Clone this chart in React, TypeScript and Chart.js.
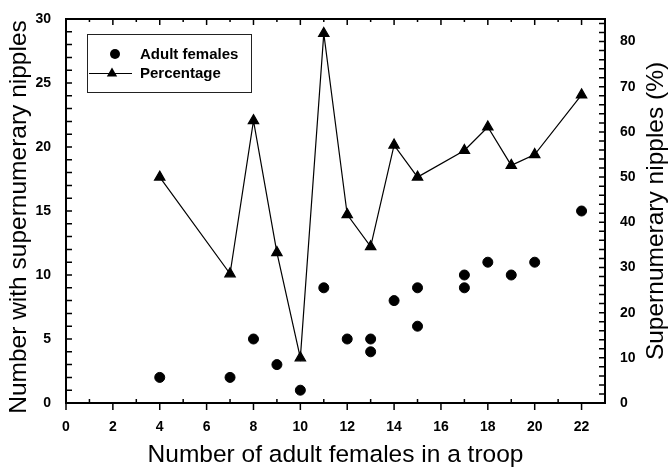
import React, { useEffect, useRef } from 'react';
import { Chart, registerables } from 'chart.js';

Chart.register(...registerables);

// ---- data ----
const femalesX = [4, 7, 8, 9, 10, 11, 12, 13, 13, 14, 15, 15, 17, 17, 18, 19, 20, 22];
const femalesY = [2, 2, 5, 3, 1, 9, 5, 5, 4, 8, 9, 6, 10, 9, 11, 10, 11, 15];
const pctX = [4, 7, 8, 9, 10, 11, 12, 13, 14, 15, 17, 18, 19, 20, 22];
const pctY = [50, 28.6, 62.5, 33.3, 10, 81.8, 41.7, 34.6, 57.1, 50, 55.9, 61.1, 52.6, 55, 68.2];
const seriesLabels = ['Adult females', 'Percentage'];
const xTitle = 'Number of adult females in a troop';
const yLeftTitle = 'Number with supernumerary nipples';
const yRightTitle = 'Supernumerary nipples (%)';
const xRange = [0, 23];
const yLeftRange = [0, 30];
const yRightRange = [0, 85];

const FONT = '"Liberation Sans", Arial, sans-serif';

const decorPlugin = {
  id: 'decor',
  afterDraw(chart: any) {
    const { ctx, chartArea: a, scales } = chart;
    const sx = scales.x;
    const sy = scales.y;
    const sr = scales.y1;
    ctx.save();
    ctx.strokeStyle = '#000';
    ctx.lineWidth = 1.5;
    ctx.beginPath();
    for (let v = xRange[0]; v <= xRange[1]; v++) {
      const px = sx.getPixelForValue(v);
      if (v % 2 === 0) {
        ctx.moveTo(px, a.bottom);
        ctx.lineTo(px, a.bottom + 7);
        ctx.moveTo(px, a.top);
        ctx.lineTo(px, a.top + 6);
      } else {
        ctx.moveTo(px, a.bottom);
        ctx.lineTo(px, a.bottom - 4);
        ctx.moveTo(px, a.top);
        ctx.lineTo(px, a.top + 3);
      }
    }
    for (let v = yLeftRange[0]; v <= yLeftRange[1]; v++) {
      const py = sy.getPixelForValue(v);
      ctx.moveTo(a.left, py);
      ctx.lineTo(a.left + 6, py);
    }
    for (let v = yRightRange[0]; v <= yRightRange[1]; v += 2) {
      const py = sr.getPixelForValue(v);
      ctx.moveTo(a.right, py);
      ctx.lineTo(a.right - 6, py);
    }
    ctx.stroke();

    ctx.lineWidth = 2;
    ctx.strokeRect(a.left, a.top, a.right - a.left, a.bottom - a.top);

    // left axis title (reads bottom to top)
    ctx.fillStyle = '#000';
    ctx.font = `24.5px ${FONT}`;
    ctx.textAlign = 'center';
    ctx.textBaseline = 'middle';
    ctx.translate(19.5, 217);
    ctx.rotate(-Math.PI / 2);
    ctx.fillText(yLeftTitle, 0, 0);
    ctx.setTransform(1, 0, 0, 1, 0, 0);

    // right axis title (reads bottom to top)
    ctx.translate(656, (a.top + a.bottom) / 2);
    ctx.rotate(-Math.PI / 2);
    ctx.fillText(yRightTitle, 0, 0);
    ctx.setTransform(1, 0, 0, 1, 0, 0);

    // legend box
    const ds = chart.data.datasets;
    const bx = 87, by = 34, bw = 164, bh = 58;
    ctx.fillStyle = '#fff';
    ctx.fillRect(bx, by, bw, bh);
    ctx.lineWidth = 1;
    ctx.strokeStyle = '#222';
    ctx.strokeRect(bx + 0.5, by + 0.5, bw, bh);
    ctx.fillStyle = '#000';
    ctx.beginPath();
    ctx.arc(115, 54, 5, 0, Math.PI * 2);
    ctx.fill();
    ctx.strokeStyle = '#000';
    ctx.lineWidth = 1.2;
    ctx.beginPath();
    ctx.moveTo(89, 73.5);
    ctx.lineTo(132, 73.5);
    ctx.stroke();
    const r = 6;
    ctx.beginPath();
    ctx.moveTo(112, 73.5 - r);
    ctx.lineTo(112 + r * Math.sin((2 * Math.PI) / 3), 73.5 + r / 2);
    ctx.lineTo(112 - r * Math.sin((2 * Math.PI) / 3), 73.5 + r / 2);
    ctx.closePath();
    ctx.fill();
    ctx.font = `bold 15px ${FONT}`;
    ctx.textAlign = 'left';
    ctx.textBaseline = 'middle';
    ctx.fillText(ds[0].label, 140, 55);
    ctx.fillText(ds[1].label, 140, 74);
    ctx.restore();
  },
};

export default function App() {
  const ref = useRef<HTMLCanvasElement | null>(null);

  useEffect(() => {
    if (!ref.current) return;
    const tickFont = { family: FONT, weight: 'bold' as const, size: 14 };
    const chart = new Chart(ref.current, {
      type: 'scatter',
      data: {
        datasets: [
          {
            label: seriesLabels[0],
            data: femalesX.map((x, i) => ({ x, y: femalesY[i] })),
            yAxisID: 'y',
            backgroundColor: '#000',
            borderColor: '#000',
            pointRadius: 5,
            pointStyle: 'circle',
          },
          {
            label: seriesLabels[1],
            data: pctX.map((x, i) => ({ x, y: pctY[i] })),
            yAxisID: 'y1',
            showLine: true,
            borderWidth: 1.2,
            backgroundColor: '#000',
            borderColor: '#000',
            pointRadius: 6,
            pointStyle: 'triangle',
          },
        ],
      },
      options: {
        animation: false,
        responsive: true,
        maintainAspectRatio: false,
        layout: { padding: { top: 19, left: 0, right: 0, bottom: 0 } },
        plugins: { legend: { display: false }, tooltip: { enabled: false } },
        scales: {
          x: {
            type: 'linear',
            position: 'bottom',
            min: xRange[0],
            max: xRange[1],
            grid: { display: false },
            border: { display: false },
            ticks: {
              stepSize: 2,
              includeBounds: false,
              padding: 8,
              color: '#000',
              font: tickFont,
              maxRotation: 0,
              autoSkip: false,
            },
            title: {
              display: true,
              text: xTitle,
              color: '#000',
              font: { family: FONT, size: 24.5, lineHeight: 1 },
              padding: { top: 0, bottom: 0 },
            },
            afterFit: (s: any) => {
              s.height = 64;
            },
          },
          y: {
            type: 'linear',
            position: 'left',
            min: yLeftRange[0],
            max: yLeftRange[1],
            grid: { display: false },
            border: { display: false },
            ticks: { stepSize: 5, padding: 7, color: '#000', font: tickFont },
            afterFit: (s: any) => {
              s.width = 66;
            },
          },
          y1: {
            type: 'linear',
            position: 'right',
            min: yRightRange[0],
            max: yRightRange[1],
            grid: { display: false },
            border: { display: false },
            ticks: { stepSize: 10, includeBounds: false, padding: 7, color: '#000', font: tickFont },
            afterFit: (s: any) => {
              s.width = 66;
            },
          },
        },
      },
      plugins: [decorPlugin],
    });
    return () => chart.destroy();
  }, []);

  return (
    <div style={{ position: 'fixed', left: 0, top: 0, width: 671, height: 467, background: '#fff' }}>
      <canvas ref={ref} />
    </div>
  );
}
